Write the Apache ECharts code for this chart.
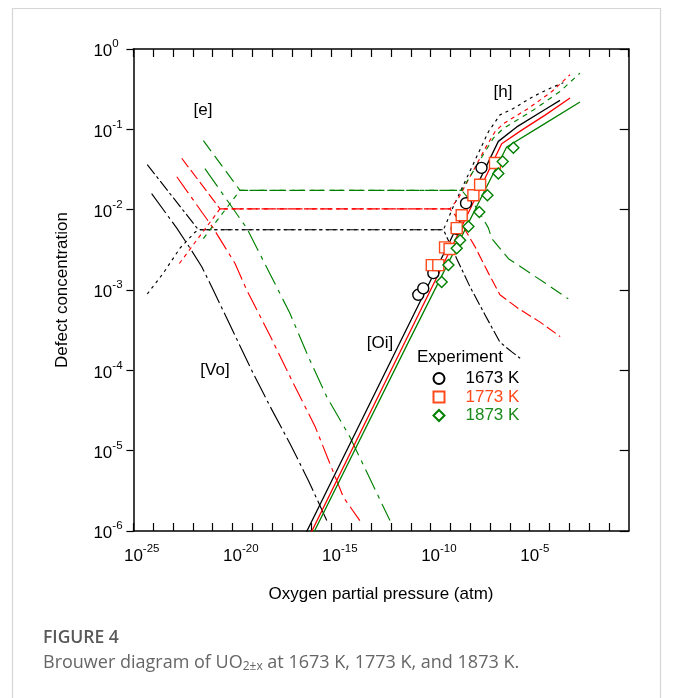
<!DOCTYPE html>
<html>
<head>
<meta charset="utf-8">
<script src="https://cdn.jsdelivr.net/npm/echarts@6/dist/echarts.min.js"></script>
<style>
  html, body { margin: 0; padding: 0; background: #fff; }
  #chart { width: 675px; height: 698px; }
</style>
</head>
<body>
<div id="chart"></div>
<script>
// every value is log10: [log10 pO2 (atm), log10 defect concentration]
const xRange = [-25, 0];
const yRange = [-6, 0];

// [e] electrons
const e1673 = [[-24.30, -1.44], [-21.72, -2.25], [-9.35, -2.25], [-8.68, -2.61], [-8.01, -2.96], [-7.25, -3.31], [-6.50, -3.65], [-5.90, -3.77], [-5.48, -3.85]];
const e1773 = [[-22.56, -1.36], [-20.63, -1.99], [-9.02, -1.99], [-8.50, -2.15], [-7.76, -2.46], [-7.08, -2.79], [-6.50, -3.06], [-5.57, -3.23], [-4.47, -3.40], [-3.46, -3.58]];
const e1873 = [[-21.47, -1.14], [-19.62, -1.76], [-8.43, -1.76], [-7.60, -2.00], [-7.08, -2.23], [-6.91, -2.36], [-6.07, -2.61], [-4.06, -2.94], [-3.05, -3.11]];

// [h] holes
const h1673 = [[-24.30, -3.05], [-23.49, -2.79], [-22.65, -2.48], [-21.89, -2.28], [-21.72, -2.25], [-9.35, -2.25], [-8.85, -1.96], [-7.08, -1.03], [-6.50, -0.82], [-5.82, -0.74], [-4.81, -0.59], [-3.80, -0.47], [-3.30, -0.42]];
const h1773 = [[-22.68, -2.67], [-20.63, -1.99], [-9.02, -1.99], [-8.60, -1.86], [-7.92, -1.55], [-7.25, -1.24], [-6.75, -1.03], [-6.33, -0.93], [-5.07, -0.74], [-3.88, -0.53], [-2.96, -0.32]];
const h1873 = [[-21.47, -2.36], [-19.62, -1.76], [-8.43, -1.76], [-7.50, -1.38], [-6.83, -1.11], [-6.33, -0.99], [-4.81, -0.76], [-3.47, -0.53], [-2.46, -0.30]];

// [Vo] oxygen vacancies
const vo1673 = [[-24.08, -1.80], [-22.81, -2.23], [-22.14, -2.48], [-21.55, -2.71], [-20.97, -3.00], [-19.03, -4.00], [-18.10, -4.45], [-17.10, -4.91], [-16.17, -5.37], [-15.24, -5.87]];
const vo1773 = [[-22.81, -1.59], [-20.97, -2.23], [-19.87, -2.67], [-19.28, -3.00], [-18.10, -3.57], [-16.93, -4.16], [-15.83, -4.70], [-14.40, -5.58], [-13.57, -5.87]];
const vo1873 = [[-21.39, -1.49], [-19.28, -2.23], [-18.02, -2.84], [-17.10, -3.29], [-16.17, -3.83], [-15.24, -4.33], [-14.07, -4.83], [-12.05, -5.87]];

// [Oi] oxygen interstitials
const oi1673 = [[-16.30, -6.03], [-13.22, -4.49], [-11.54, -3.65], [-9.00, -2.38], [-6.58, -1.15], [-5.65, -0.97], [-4.14, -0.74], [-3.47, -0.64]];
const oi1773 = [[-16.05, -6.03], [-11.30, -3.65], [-8.80, -2.40], [-6.41, -1.18], [-5.40, -1.01], [-4.20, -0.82], [-2.96, -0.61]];
const oi1873 = [[-15.92, -6.03], [-11.10, -3.64], [-6.16, -1.22], [-4.50, -0.97], [-2.46, -0.66]];

// experiment
const exp1673 = [[-10.62, -3.06], [-10.37, -2.98], [-9.86, -2.79], [-9.22, -2.48], [-8.68, -2.24], [-8.43, -2.07], [-8.21, -1.92], [-7.43, -1.48]];
const exp1773 = [[-9.94, -2.69], [-9.61, -2.69], [-9.27, -2.47], [-9.04, -2.49], [-8.68, -2.23], [-8.43, -2.07], [-7.84, -1.82], [-7.50, -1.69], [-6.75, -1.42]];
const exp1873 = [[-9.44, -2.90], [-9.10, -2.69], [-8.68, -2.48], [-8.51, -2.38], [-8.09, -2.21], [-7.54, -2.03], [-7.13, -1.82], [-6.58, -1.55], [-6.36, -1.40], [-5.82, -1.23]];

const tempNames = ['1673 K', '1773 K', '1873 K'];

const FONT = '"Liberation Sans", Arial, sans-serif';
const CAP_FONT = '"Open Sans", Lato, sans-serif';
const BLACK = '#000000', RED = '#ff0000', GREEN = '#008000';
const SQ = '#ff4a1c', GTXT = '#1b8a1b';

let chart = echarts.init(document.getElementById('chart'));

function curve(data, color, dash, width) {
  return {
    type: 'line', data: data, symbol: 'none', silent: true, z: 2,
    lineStyle: { color: color, width: width || 1.15, type: dash }
  };
}

function marks(name, data, symbol, color) {
  return {
    name: name, type: 'scatter', data: data, symbol: symbol, symbolSize: 11, z: 5,
    itemStyle: { color: '#ffffff', borderColor: color, borderWidth: 1.4, opacity: 1 }
  };
}

// 10^n label, the hidden copy of the exponent keeps "10" on the tick
function powLabel(v, pad) {
  let n = Math.round(v);
  if (Math.abs(v - n) > 1e-6) return '';
  return (pad ? '{h|' + n + '}' : '') + '{m|10}{s|' + n + '}';
}
function powRich() {
  return {
    m: { fontFamily: FONT, fontSize: 17, lineHeight: 22, verticalAlign: 'bottom', color: '#000' },
    s: { fontFamily: FONT, fontSize: 11.5, lineHeight: 12, verticalAlign: 'top', color: '#000' },
    h: { fontFamily: FONT, fontSize: 11.5, lineHeight: 12, verticalAlign: 'top', color: 'rgba(0,0,0,0)' }
  };
}

const axisLine = { show: true, onZero: false, lineStyle: { color: '#000', width: 1.5 } };

let option = {
  animation: false,
  backgroundColor: '#ffffff',
  grid: { left: 133.4, right: 46.3, top: 49, bottom: 167, containLabel: false },
  legend: {
    orient: 'vertical', left: 432.5, top: 370, padding: 0, itemWidth: 11, itemHeight: 11, itemGap: 1.5,
    selectedMode: false,
    textStyle: { fontFamily: FONT, fontSize: 17, lineHeight: 17, padding: [0, 0, 0, 16] },
    data: [
      { name: tempNames[0], textStyle: { color: BLACK } },
      { name: tempNames[1], textStyle: { color: SQ } },
      { name: tempNames[2], textStyle: { color: GTXT } }
    ]
  },
  xAxis: [
    {
      type: 'value', position: 'bottom', min: xRange[0], max: xRange[1], interval: 1,
      name: 'Oxygen partial pressure (atm)', nameLocation: 'middle', nameGap: 55,
      nameTextStyle: { fontFamily: FONT, fontSize: 17, color: '#000' },
      axisLine: axisLine,
      axisTick: { inside: true, length: 8, lineStyle: { color: '#000', width: 1.2 } },
      axisLabel: {
        margin: 12, fontFamily: FONT, fontSize: 17, color: '#000',
        formatter: function (v) { return v % 5 === 0 ? powLabel(v, true) : ''; },
        rich: powRich(), showMinLabel: true, showMaxLabel: false
      },
      splitLine: { show: false }
    },
    {
      type: 'value', position: 'top', min: xRange[0], max: xRange[1], interval: 1,
      axisLine: axisLine,
      axisTick: { inside: true, length: 8, lineStyle: { color: '#000', width: 1.2 } },
      axisLabel: { show: false }, splitLine: { show: false }
    }
  ],
  yAxis: [
    {
      type: 'value', position: 'left', min: yRange[0], max: yRange[1], interval: 1,
      name: 'Defect concentration', nameLocation: 'middle', nameGap: 63,
      nameTextStyle: { fontFamily: FONT, fontSize: 17, color: '#000' },
      axisLine: axisLine,
      axisTick: { inside: false, length: 7, lineStyle: { color: '#000', width: 1.2 } },
      axisLabel: {
        margin: 40, align: 'left', fontFamily: FONT, fontSize: 17, color: '#000',
        formatter: function (v) { return powLabel(v, false); }, rich: powRich()
      },
      splitLine: { show: false }
    },
    {
      type: 'value', position: 'right', min: yRange[0], max: yRange[1], interval: 1,
      axisLine: axisLine,
      axisTick: { inside: true, length: 9, lineStyle: { color: '#000', width: 1.2 } },
      axisLabel: { show: false }, splitLine: { show: false }
    }
  ],
  series: [
    curve(vo1673, BLACK, [24, 4, 3, 4]),
    curve(vo1773, RED, [20, 5, 4, 5]),
    curve(vo1873, GREEN, [22, 6, 4, 6]),
    curve(e1673, BLACK, [12, 3, 3, 3]),
    curve(e1773, RED, [11, 4]),
    curve(e1873, GREEN, [13, 6]),
    curve(h1673, BLACK, [3, 4]),
    curve(h1773, RED, [4, 4]),
    curve(h1873, GREEN, [5, 5]),
    curve(oi1673, BLACK, 'solid', 1.3),
    curve(oi1773, RED, 'solid', 1.3),
    curve(oi1873, GREEN, 'solid', 1.3),
    marks(tempNames[0], exp1673, 'circle', BLACK),
    marks(tempNames[1], exp1773, 'rect', SQ),
    marks(tempNames[2], exp1873, 'diamond', GREEN)
  ],
  graphic: [
    { type: 'rect', shape: { x: 12.5, y: 8.5, width: 648, height: 720 }, style: { fill: 'none', stroke: '#d6d6d6', lineWidth: 1.2 }, silent: true, z: -1 },
    { type: 'text', x: 203, y: 110, style: { text: '[e]', font: '17px ' + FONT, fill: '#000', align: 'center', verticalAlign: 'middle' } },
    { type: 'text', x: 503, y: 92, style: { text: '[h]', font: '17px ' + FONT, fill: '#000', align: 'center', verticalAlign: 'middle' } },
    { type: 'text', x: 215, y: 370, style: { text: '[Vo]', font: '17px ' + FONT, fill: '#000', align: 'center', verticalAlign: 'middle' } },
    { type: 'text', x: 380, y: 343, style: { text: '[Oi]', font: '17px ' + FONT, fill: '#000', align: 'center', verticalAlign: 'middle' } },
    { type: 'text', x: 417, y: 357, style: { text: 'Experiment', font: '17px ' + FONT, fill: '#000', align: 'left', verticalAlign: 'middle' } },
    { type: 'text', x: 43, y: 638, style: { text: 'FIGURE 4', font: '600 17.5px ' + CAP_FONT, fill: '#595959', align: 'left', verticalAlign: 'middle' } },
    {
      type: 'text', x: 43, y: 663,
      style: {
        text: 'Brouwer diagram of UO{sub|2±x} at 1673 K, 1773 K, and 1873 K.',
        fontFamily: CAP_FONT, fontSize: 18, lineHeight: 20, fill: '#666666',
        align: 'left', verticalAlign: 'middle',
        rich: { sub: { fontFamily: CAP_FONT, fontSize: 12, lineHeight: 10, verticalAlign: 'bottom', fill: '#666666' } }
      }
    }
  ]
};

chart.setOption(option);
window.addEventListener('resize', function () { chart.resize(); });
</script>
</body>
</html>
